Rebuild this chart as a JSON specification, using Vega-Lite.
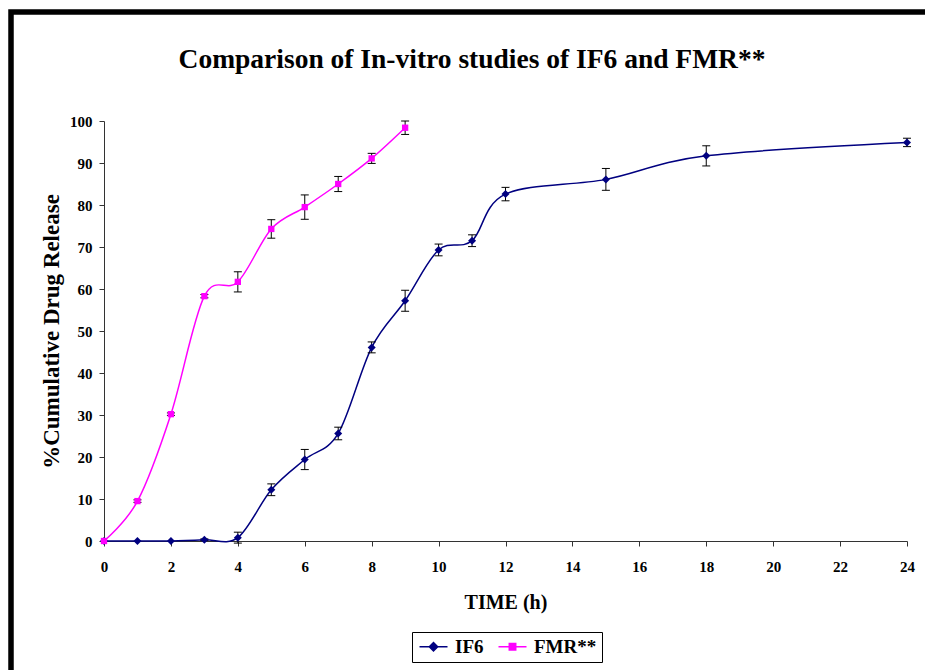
{
  "$schema": "https://vega.github.io/schema/vega-lite/v6.json",
  "width": 914,
  "height": 658,
  "autosize": {"type": "none"},
  "padding": {"left": 11, "top": 12, "right": 0, "bottom": 0},
  "background": "white",
  "config": {
    "view": {"stroke": "black", "strokeWidth": 5.5, "strokeDash": [914, 1572, 658], "strokeCap": "square"},
    "font": "Liberation Serif"
  },
  "title": {
    "text": "Comparison of In-vitro  studies of IF6 and FMR**",
    "font": "Liberation Serif",
    "fontSize": 27.5,
    "fontWeight": "bold",
    "color": "black",
    "anchor": "middle",
    "frame": "group",
    "offset": -61,
    "dx": 4
  },
  "data": {
    "values": [
      {"series": "IF6", "time": 0, "value": 0, "lo": 0, "hi": 0},
      {"series": "IF6", "time": 1, "value": 0, "lo": 0, "hi": 0},
      {"series": "IF6", "time": 2, "value": 0, "lo": 0, "hi": 0},
      {"series": "IF6", "time": 3, "value": 0.3, "lo": 0.1, "hi": 0.5},
      {"series": "IF6", "time": 4, "value": 0.8, "lo": -0.5, "hi": 2.1},
      {"series": "IF6", "time": 5, "value": 12.2, "lo": 10.8, "hi": 13.6},
      {"series": "IF6", "time": 6, "value": 19.4, "lo": 17.0, "hi": 21.8},
      {"series": "IF6", "time": 7, "value": 25.6, "lo": 24.1, "hi": 27.1},
      {"series": "IF6", "time": 8, "value": 46.1, "lo": 44.8, "hi": 47.4},
      {"series": "IF6", "time": 9, "value": 57.2, "lo": 54.7, "hi": 59.7},
      {"series": "IF6", "time": 10, "value": 69.3, "lo": 67.9, "hi": 70.7},
      {"series": "IF6", "time": 11, "value": 71.5, "lo": 70.1, "hi": 72.9},
      {"series": "IF6", "time": 12, "value": 82.6, "lo": 81.0, "hi": 84.2},
      {"series": "IF6", "time": 15, "value": 86.1, "lo": 83.5, "hi": 88.7},
      {"series": "IF6", "time": 18, "value": 91.7, "lo": 89.3, "hi": 94.1},
      {"series": "IF6", "time": 24, "value": 94.9, "lo": 93.9, "hi": 95.9},
      {"series": "FMR**", "time": 0, "value": 0, "lo": 0, "hi": 0},
      {"series": "FMR**", "time": 1, "value": 9.5, "lo": 9.2, "hi": 9.8},
      {"series": "FMR**", "time": 2, "value": 30.2, "lo": 29.9, "hi": 30.5},
      {"series": "FMR**", "time": 3, "value": 58.3, "lo": 57.9, "hi": 58.7},
      {"series": "FMR**", "time": 4, "value": 61.7, "lo": 59.3, "hi": 64.1},
      {"series": "FMR**", "time": 5, "value": 74.3, "lo": 72.1, "hi": 76.5},
      {"series": "FMR**", "time": 6, "value": 79.5, "lo": 76.6, "hi": 82.4},
      {"series": "FMR**", "time": 7, "value": 85.0, "lo": 83.2, "hi": 86.8},
      {"series": "FMR**", "time": 8, "value": 91.1, "lo": 89.9, "hi": 92.3},
      {"series": "FMR**", "time": 9, "value": 98.4, "lo": 96.8, "hi": 100.0}
    ]
  },
  "layer": [
    {
      "transform": [{"filter": "datum.time < 0"}],
      "mark": {"type": "point", "filled": true, "opacity": 1, "size": 196, "strokeWidth": 1.5},
      "encoding": {
        "x": {
          "field": "time",
          "type": "quantitative",
          "title": "TIME (h)",
          "scale": {"domain": [0, 24], "range": [93, 896], "nice": false, "zero": false},
          "axis": {
            "values": [0, 2, 4, 6, 8, 10, 12, 14, 16, 18, 20, 22, 24],
            "offset": -129,
            "grid": false,
            "tickSize": 5,
            "tickColor": "#333",
            "domainColor": "#333",
            "labelPadding": 13,
            "labelFont": "Liberation Serif",
            "labelFontSize": 15,
            "labelFontWeight": "bold",
            "labelColor": "black",
            "labelFlush": false,
            "labelOverlap": false,
            "titleFont": "Liberation Serif",
            "titleFontSize": 20,
            "titleFontWeight": "bold",
            "titleColor": "black",
            "titlePadding": 18
          }
        },
        "y": {
          "field": "value",
          "type": "quantitative",
          "title": "%Cumulative Drug Release",
          "scale": {"domain": [0, 100], "range": [529, 109], "nice": false},
          "axis": {
            "values": [0, 10, 20, 30, 40, 50, 60, 70, 80, 90, 100],
            "offset": -93,
            "grid": false,
            "tickSize": 5,
            "tickColor": "#333",
            "domainColor": "#333",
            "labelPadding": 7,
            "labelFont": "Liberation Serif",
            "labelFontSize": 15,
            "labelFontWeight": "bold",
            "labelColor": "black",
            "labelFlush": false,
            "labelOverlap": false,
            "titleFont": "Liberation Serif",
            "titleFontSize": 23,
            "titleFontWeight": "bold",
            "titleColor": "black",
            "titlePadding": 6
          }
        },
        "color": {
          "field": "series",
          "type": "nominal",
          "scale": {"domain": ["IF6", "FMR**"], "range": ["#000080", "#FF00FF"]},
          "legend": {
            "title": null,
            "orient": "none",
            "legendX": 401,
            "legendY": 620,
            "direction": "horizontal",
            "strokeColor": "black",
            "fillColor": "white",
            "padding": 5,
            "labelFont": "Liberation Serif",
            "labelFontSize": 19,
            "labelFontWeight": "bold",
            "labelColor": "black",
            "symbolOffset": 7,
            "labelOffset": 12,
            "columnPadding": 11,
            "symbolSize": 196,
            "symbolStrokeWidth": 1.5
          }
        },
        "stroke": {
          "field": "series",
          "type": "nominal",
          "scale": {"domain": ["IF6", "FMR**"], "range": ["#000080", "#FF00FF"]}
        },
        "shape": {
          "field": "series",
          "type": "nominal",
          "scale": {
            "domain": ["IF6", "FMR**"],
            "range": ["M-2,0L2,0M-0.6,0L0,-0.6L0.6,0L0,0.6Z", "M-2,0L2,0M-0.46,-0.46L0.46,-0.46L0.46,0.46L-0.46,0.46Z"]
          }
        }
      }
    },
    {
      "mark": {"type": "line", "interpolate": "cardinal", "strokeWidth": 1.5},
      "encoding": {
        "x": {"field": "time", "type": "quantitative", "title": "TIME (h)"},
        "y": {"field": "value", "type": "quantitative", "title": "%Cumulative Drug Release"},
        "color": {"field": "series", "type": "nominal"}
      }
    },
    {
      "transform": [{"filter": "datum.hi > datum.lo"}],
      "mark": {"type": "rule", "color": "black", "strokeWidth": 1},
      "encoding": {
        "x": {"field": "time", "type": "quantitative", "title": "TIME (h)"},
        "y": {"field": "lo", "type": "quantitative", "title": "%Cumulative Drug Release"},
        "y2": {"field": "hi"}
      }
    },
    {
      "transform": [{"filter": "datum.hi > datum.lo"}],
      "mark": {"type": "tick", "orient": "horizontal", "color": "black", "size": 8, "thickness": 1, "opacity": 1},
      "encoding": {
        "x": {"field": "time", "type": "quantitative", "title": "TIME (h)"},
        "y": {"field": "lo", "type": "quantitative", "title": "%Cumulative Drug Release"}
      }
    },
    {
      "transform": [{"filter": "datum.hi > datum.lo"}],
      "mark": {"type": "tick", "orient": "horizontal", "color": "black", "size": 8, "thickness": 1, "opacity": 1},
      "encoding": {
        "x": {"field": "time", "type": "quantitative", "title": "TIME (h)"},
        "y": {"field": "hi", "type": "quantitative", "title": "%Cumulative Drug Release"}
      }
    },
    {
      "transform": [{"filter": "datum.series === 'IF6'"}],
      "mark": {"type": "point", "shape": "diamond", "filled": true, "opacity": 1, "color": "#000080", "size": 64},
      "encoding": {
        "x": {"field": "time", "type": "quantitative", "title": "TIME (h)"},
        "y": {"field": "value", "type": "quantitative", "title": "%Cumulative Drug Release"}
      }
    },
    {
      "transform": [{"filter": "datum.series === 'FMR**'"}],
      "mark": {"type": "point", "shape": "square", "filled": true, "opacity": 1, "color": "#FF00FF", "size": 40},
      "encoding": {
        "x": {"field": "time", "type": "quantitative", "title": "TIME (h)"},
        "y": {"field": "value", "type": "quantitative", "title": "%Cumulative Drug Release"}
      }
    }
  ]
}
